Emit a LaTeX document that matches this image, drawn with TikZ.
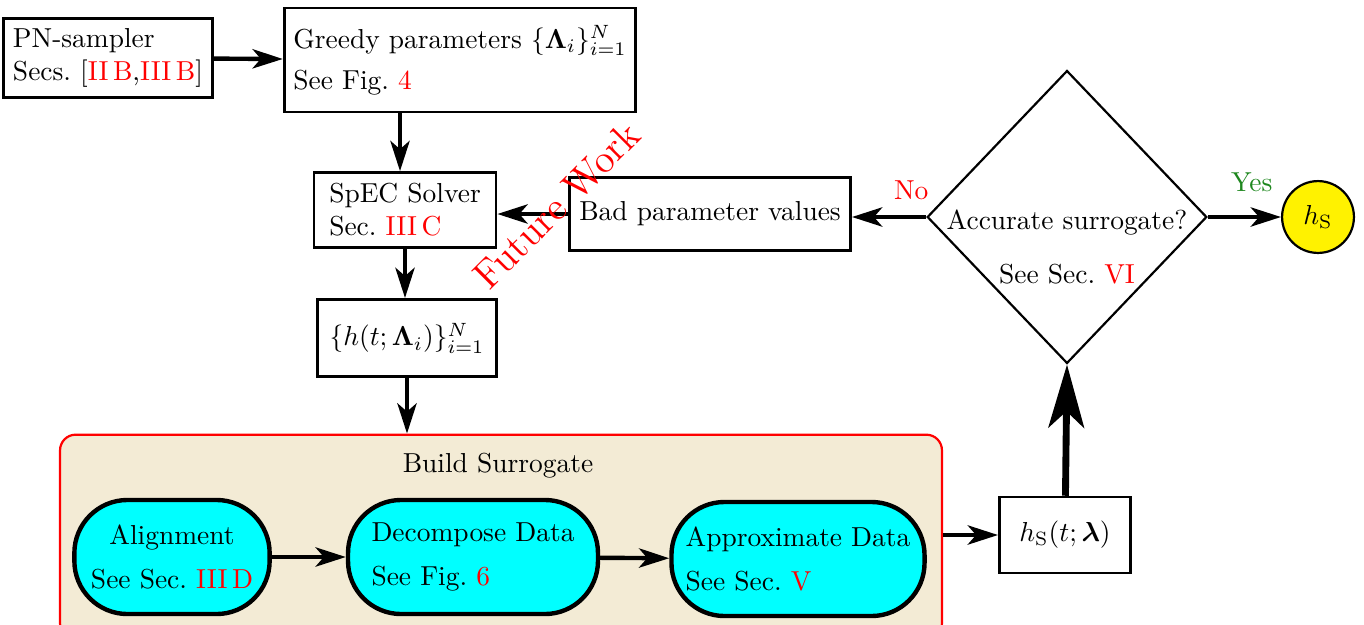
\documentclass[tikz,border=0pt]{standalone}
\usepackage{amsmath,bm}
\usetikzlibrary{shapes.geometric,arrows.meta,positioning}
\definecolor{buildbeige}{RGB}{243,235,213}
\definecolor{yesgreen}{RGB}{30,135,30}
\definecolor{stagecyan}{RGB}{0,255,255}
\newcommand{\refsec}[1]{\textcolor{red}{#1}}

\begin{document}
\begin{tikzpicture}[x=0.0128cm, y=0.0128cm,
  box/.style={draw, line width=1pt, fill=white, align=left},
  stage/.style={draw, ultra thick, fill=stagecyan, rounded corners=0.68cm, minimum height=1.46cm},
  flow/.style={-{Stealth[length=11pt, width=7pt, inset=3pt]}, ultra thick}]
\useasboundingbox (0,0) rectangle (1364,-624);

% Top row
\node[box, minimum width=2.56cm, minimum height=1.02cm] (pn) at (108,-58) {PN-sampler\\Secs.~[\refsec{II\,B},\refsec{III\,B}]};
\node[box, minimum width=4.43cm, minimum height=1.33cm] (greedy) at (460,-60) {Greedy parameters $\{\boldsymbol{\Lambda}_i\}_{i=1}^N$\\[3pt] See Fig.~\refsec{4}};
\draw[flow] (pn) -- (greedy);

% Solver column
\node[box, minimum width=2.33cm, minimum height=0.96cm] (spec) at (405,-210) {SpEC Solver\\Sec.~\refsec{III\,C}};
\node[box, align=center, minimum width=2.29cm, minimum height=0.99cm] (hdata) at (407,-338) {$\{h(t;\boldsymbol{\Lambda}_i)\}_{i=1}^N$};
\draw[flow] (greedy.south -| spec.north) ++(-5,0) coordinate (gs) -- (gs |- spec.north);
\draw[flow] (spec) -- (spec |- hdata.north);

% Feedback loop
\node[box, minimum width=3.6cm, minimum height=0.93cm] (bad) at (710,-214) {Bad parameter values};
\draw[flow] (bad) -- (bad -| spec.east);
\node[red, font=\Large, rotate=45] (future) at (557,-205) {Future Work};

\node[draw, thick, diamond, fill=white, inner sep=0pt, minimum width=3.58cm, minimum height=3.75cm] (acc) at (1067,-217) {};
\node[align=center] (acctext) at (1067,-247) {Accurate surrogate?\\[8pt]See Sec.~\refsec{VI}};
\draw[flow] (acc.west) -- node[pos=0.2, above=2pt, red] {No} (bad.east |- acc.west);

\node[draw, thick, circle, fill=yellow, minimum size=0.92cm, inner sep=0pt] (hs) at (1318,-217) {$h_{\mathrm{S}}$};
\draw[flow] (acc.east) -- node[pos=0.6, above=5pt, yesgreen] {Yes} (hs);

% Build surrogate
\node[draw=red, thick, fill=buildbeige, rounded corners=0.2cm, minimum width=11.29cm, minimum height=2.62cm] (build) at (501,-537) {};
\node (buildtitle) at (498,-466) {Build Surrogate};
\draw[flow] (hdata) -- (hdata |- build.north);

\node[stage, align=center, minimum width=2.5cm] (align) at (172,-557) {Alignment\\[4pt]See Sec.~\refsec{III\,D}};
\node[stage, align=left, minimum width=3.2cm] (decomp) at (473,-557) {Decompose Data\\[4pt]See Fig.~\refsec{6}};
\node[stage, align=left, minimum width=3.24cm] (approx) at (798,-559) {Approximate Data\\[4pt]See Sec.~\refsec{V}};
\draw[flow] (align) -- (decomp);
\draw[flow] (decomp) -- (approx);

\node[box, align=center, minimum width=1.68cm, minimum height=0.97cm] (hsl) at (1065,-535) {$h_{\mathrm{S}}(t;\boldsymbol{\lambda})$};
\draw[flow] (build.east |- hsl) -- (hsl);
\draw[-{Stealth[length=23pt, width=13pt, inset=6pt]}, line width=2.5pt] (hsl) -- (acc.south);
\end{tikzpicture}
\end{document}
